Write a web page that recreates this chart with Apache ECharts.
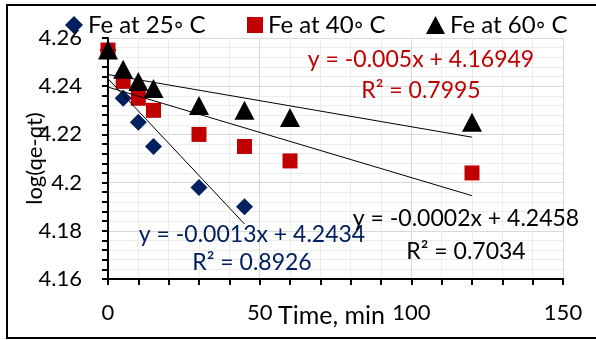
<!DOCTYPE html>
<html><head><meta charset="utf-8">
<script src="https://cdn.jsdelivr.net/npm/echarts@6/dist/echarts.min.js"></script>
<style>html,body{margin:0;padding:0;background:#fff}#c{width:596px;height:340px}</style>
</head><body><div id="c"></div>
<script>
const seriesNames = ['Fe at 25\u25E6 C', 'Fe at 40\u25E6 C', 'Fe at 60\u25E6 C'];
const time25 = [0, 5, 10, 15, 30, 45];
const fe25 = [4.255, 4.235, 4.225, 4.215, 4.198, 4.19];
const time40 = [0, 5, 10, 15, 30, 45, 60, 120];
const fe40 = [4.255, 4.242, 4.235, 4.230, 4.220, 4.215, 4.209, 4.204];
const time60 = [0, 5, 10, 15, 30, 45, 60, 120];
const fe60 = [4.255, 4.247, 4.242, 4.239, 4.232, 4.230, 4.227, 4.225];
const xTickLabels = [0, 50, 100, 150];
const yTickLabels = [4.16, 4.18, 4.2, 4.22, 4.24, 4.26];
const eq25 = ['y = -0.0013x + 4.2434', 'R\u00B2 = 0.8926'];
const eq40 = ['y = -0.005x + 4.16949', 'R\u00B2 = 0.7995'];
const eq60 = ['y = -0.0002x + 4.2458', 'R\u00B2 = 0.7034'];

function pairs(xs, ys) { return xs.map((x, i) => [x, ys[i]]); }
function fit(xs, ys) {
  const n = xs.length;
  const mx = xs.reduce((a, b) => a + b, 0) / n;
  const my = ys.reduce((a, b) => a + b, 0) / n;
  let sxy = 0, sxx = 0;
  for (let i = 0; i < n; i++) { sxy += (xs[i] - mx) * (ys[i] - my); sxx += (xs[i] - mx) ** 2; }
  const b = sxy / sxx, a = my - b * mx;
  const x0 = Math.min(...xs), x1 = Math.max(...xs);
  return [[x0, a + b * x0], [x1, a + b * x1]];
}

const FONT = 'Lato';
const blue = '#002060', red = '#c00000', black = '#000000';
const chart = echarts.init(document.getElementById('c'));

function trend(xs, ys) {
  return { type: 'line', data: fit(xs, ys), symbol: 'none', silent: true, z: 5,
    lineStyle: { color: '#000', width: 1 }, legendHoverLink: false, tooltip: { show: false } };
}
function eqText(lines, cx, cy1, cy2, color) {
  return [
    { type: 'text', x: cx, y: cy1, style: { text: lines[0], fill: color, font: '23px ' + FONT, align: 'center', verticalAlign: 'middle' }, z: 100 },
    { type: 'text', x: cx, y: cy2, style: { text: lines[1], fill: color, font: '23px ' + FONT, align: 'center', verticalAlign: 'middle' }, z: 100 }
  ];
}
function legendAt(name, left, w, h) {
  return { data: [name], top: 13, left: left, itemWidth: w, itemHeight: h, padding: 0,
    textStyle: { fontFamily: FONT, fontSize: 24, color: '#000' } };
}

chart.setOption({
  animation: false,
  backgroundColor: '#fff',
  textStyle: { fontFamily: FONT },
  grid: { left: 108, top: 38, right: 33, bottom: 61, containLabel: false, outerBoundsMode: 'none' },
  legend: [legendAt(seriesNames[0], 65, 18, 18), legendAt(seriesNames[1], 247, 16, 16), legendAt(seriesNames[2], 426, 19, 18)],
  xAxis: {
    type: 'value', min: xTickLabels[0], max: xTickLabels[xTickLabels.length - 1], interval: 50,
    name: 'Time, min', nameLocation: 'middle', nameGap: 24, nameMoveOverlap: false,
    nameTextStyle: { fontFamily: FONT, fontSize: 25, color: '#000', padding: [0, 8, 0, 0] },
    axisLine: { show: true, onZero: false, lineStyle: { color: '#000', width: 2 } },
    axisTick: { show: true, inside: false, length: 6, lineStyle: { color: '#000', width: 2 } },
    minorTick: { show: true, splitNumber: 5, length: 6, lineStyle: { color: '#000', width: 2 } },
    axisLabel: { margin: 23, fontFamily: FONT, fontSize: 22, color: '#000' },
    splitLine: { show: true, lineStyle: { color: '#d9d9d9', width: 1 } },
    minorSplitLine: { show: true, lineStyle: { color: '#ececec', width: 1 } }
  },
  yAxis: {
    type: 'value', min: yTickLabels[0], max: yTickLabels[yTickLabels.length - 1], interval: 0.02,
    name: 'log(qe-qt)', nameLocation: 'middle', nameGap: 62, nameRotate: 90, nameMoveOverlap: false,
    nameTextStyle: { fontFamily: FONT, fontSize: 22, color: '#000' },
    axisLine: { show: true, onZero: false, lineStyle: { color: '#000', width: 2 } },
    axisTick: { show: true, inside: false, length: 6, lineStyle: { color: '#000', width: 2 } },
    minorTick: { show: true, splitNumber: 5, length: 6, lineStyle: { color: '#000', width: 2 } },
    axisLabel: { margin: 26, fontFamily: FONT, fontSize: 22, color: '#000',
      formatter: v => String(+(+v).toFixed(2)) },
    splitLine: { show: true, lineStyle: { color: '#d9d9d9', width: 1 } },
    minorSplitLine: { show: true, lineStyle: { color: '#ececec', width: 1 } }
  },
  series: [
    { name: seriesNames[0], type: 'scatter', data: pairs(time25, fe25), symbol: 'diamond', symbolSize: 17,
      itemStyle: { color: blue, opacity: 1 }, z: 2 },
    { name: seriesNames[1], type: 'scatter', data: pairs(time40, fe40), symbol: 'rect', symbolSize: 15,
      itemStyle: { color: red, opacity: 1 }, z: 3 },
    { name: seriesNames[2], type: 'scatter', data: pairs(time60, fe60), symbol: 'triangle', symbolSize: [20, 19],
      itemStyle: { color: black, opacity: 1 }, z: 4 },
    trend(time25, fe25),
    trend(time40, fe40),
    trend(time60, fe60)
  ],
  graphic: [
    { type: 'rect', shape: { x: 7, y: 5, width: 600, height: 333 }, style: { fill: 'none', stroke: '#000', lineWidth: 2 }, z: 100 },
    ...eqText(eq40, 421, 60, 91, red),
    ...eqText(eq25, 252, 235, 263, blue),
    ...eqText(eq60, 466, 219, 252, black)
  ]
});
</script>
</body></html>
